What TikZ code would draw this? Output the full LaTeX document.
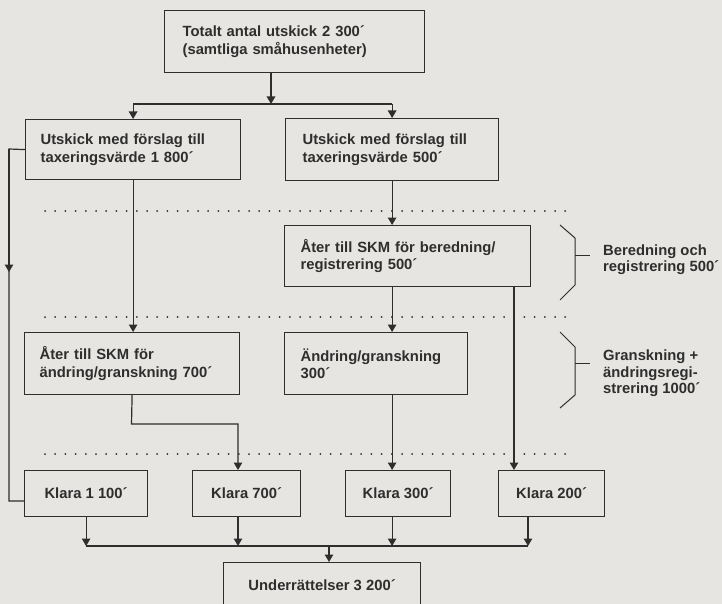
\documentclass[tikz,border=0pt]{standalone}
\usepackage{fontspec}
\setmainfont{Liberation Sans}
\usetikzlibrary{arrows.meta}
\definecolor{bg}{HTML}{E6E5E1}
\definecolor{ink}{HTML}{2E2E2E}
\begin{document}
\begin{tikzpicture}[x=1pt,y=-1pt,
  ln/.style={draw=ink, line width=1.2pt},
  arr/.style={ln, -{Triangle[width=8.5pt,length=7.5pt]}},
  dots/.style={draw=ink, line width=2pt, line cap=round, dash pattern=on 0pt off 10.2pt},
  bracepath/.style={draw=ink, line width=1pt},
  box/.style={draw=ink, line width=1.2pt, rectangle, anchor=north west, inner ysep=0pt,
    text=ink, font=\fontsize{14.8}{17.5}\selectfont\bfseries, align=left},
  cbox/.style={box, align=center, minimum height=46pt, inner xsep=0pt},
  lab/.style={text=ink, font=\fontsize{14.8}{16.5}\selectfont\bfseries, align=left, inner sep=0pt, anchor=west}
]
\clip (0,0) rectangle (722,604);
\fill[bg] (0,0) rectangle (722,604);

% boxes
\node[box, minimum width=260pt, minimum height=62pt, text width=224pt, inner xsep=18pt] (top) at (164,10)
  {Totalt antal utskick 2 300´\\(samtliga småhusenheter)};
\node[box, minimum width=215pt, minimum height=60pt, text width=185pt, inner xsep=15pt] (L1) at (25,119)
  {Utskick med förslag till\\taxeringsvärde 1 800´};
\node[box, minimum width=213pt, minimum height=62pt, text width=179pt, inner xsep=17pt] (R1) at (285,118)
  {Utskick med förslag till\\taxeringsvärde 500´};
\node[box, minimum width=246pt, minimum height=61pt, text width=214pt, inner xsep=16pt] (R2) at (284,225)
  {Åter till SKM för beredning/\\registrering 500´};
\node[box, minimum width=215pt, minimum height=62pt, text width=185pt, inner xsep=15pt] (L2) at (24,332)
  {Åter till SKM för\\ändring/granskning 700´};
\node[box, minimum width=183pt, minimum height=62pt, text width=151pt, inner xsep=16pt] (M2) at (284,332)
  {Ändring/granskning\\300´};
\node[cbox, minimum width=123pt] (K1) at (24,470) {Klara 1 100´};
\node[cbox, minimum width=108pt] (K2) at (192,470) {Klara 700´};
\node[cbox, minimum width=105pt] (K3) at (345,470) {Klara 300´};
\node[cbox, minimum width=106pt] (K4) at (498,470) {Klara 200´};
\node[cbox, minimum width=197pt] (U) at (223,562) {Underrättelser 3 200´};

% dotted separators
\draw[dots] (45,211) -- (572,211);
\draw[dots] (45,317) -- (572,317);
\draw[dots] (45,454) -- (572,454);

% split from top
\coordinate (j1) at (271,104);
\draw[arr] (top.south -| j1) -- (j1);
\draw[ln] (j1 -| L1.north) -- (j1 -| R1.north);
\draw[arr] (j1 -| L1.north) -- (L1.north);
\draw[arr] (j1 -| R1.north) -- (R1.north);

% left loop
\coordinate (lA) at (9,149);
\coordinate (lM) at (9,272);
\coordinate (lB) at (9,501);
\draw[ln] (L1.west) -- (lA) -- (lB) -- (lB -| K1.west);
\draw[arr] (lA) -- (lM);

% column connectors
\draw[arr] (L1.south) -- (L1.south |- L2.north);
\draw[arr] (R1.south) -- (R1.south |- R2.north);
\draw[arr] (R1.south |- R2.south) -- (R1.south |- M2.north);
\draw[arr] (R1.south |- M2.south) -- (R1.south |- K3.north);
\coordinate (c514) at (514,300);
\draw[arr] (c514 |- R2.south) -- (c514 |- K4.north);
\coordinate (l2a) at (131.5,424);
\coordinate (c238) at (238,424);
\draw[arr] (L2.south) -- (l2a) -- (c238) -- (c238 |- K2.north);

% bus to Underrättelser
\coordinate (bus) at (300,546);
\coordinate (c528) at (528,546);
\coordinate (c329) at (329,546);
\draw[ln] (K1.south |- bus) -- (c528);
\draw[arr] (K1.south) -- (K1.south |- bus);
\draw[arr] (c238 |- K2.south) -- (c238 |- bus);
\draw[arr] (R1.south |- K3.south) -- (R1.south |- bus);
\draw[arr] (c528 |- K4.south) -- (c528);
\draw[arr] (c329) -- (c329 |- U.north);

% braces
\draw[bracepath] (560,225) -- (575,238) -- (575,285) -- (560,300);
\draw[bracepath] (575,255) -- (590,255);
\draw[bracepath] (560,332) -- (575,347) -- (575,395) -- (560,408);
\draw[bracepath] (575,363) -- (590,363);
\node[lab] (b1) at (603,259.5) {Beredning och\\registrering 500´};
\node[lab] (b2) at (603,373.5) {Granskning +\\ändringsregi-\\strering 1000´};
\end{tikzpicture}
\end{document}
